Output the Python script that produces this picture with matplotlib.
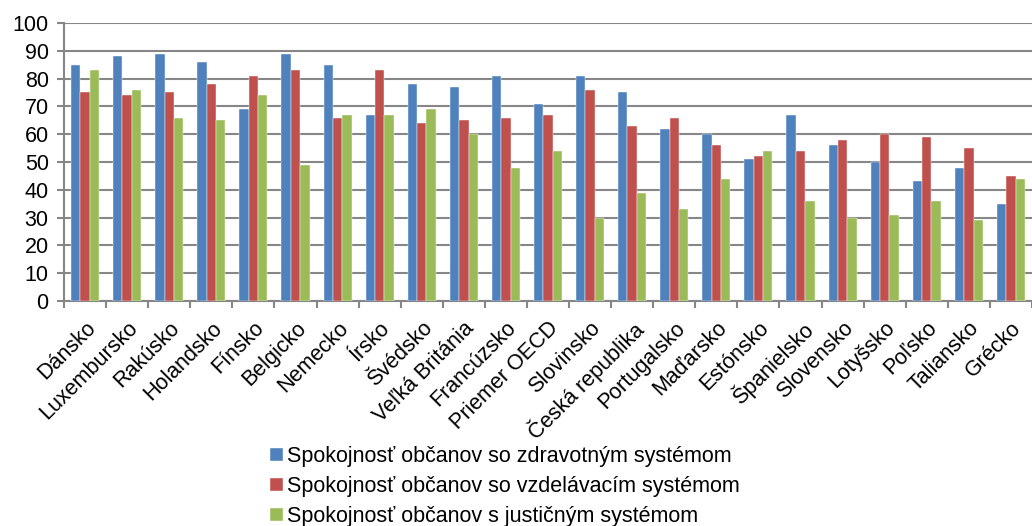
import matplotlib
matplotlib.use("Agg")
import matplotlib.pyplot as plt
import numpy as np

plt.rcParams['font.family'] = ['Liberation Sans', 'DejaVu Sans']

# údaje z grafu
krajiny = ['Dánsko', 'Luxembursko', 'Rakúsko', 'Holandsko', 'Fínsko', 'Belgicko',
           'Nemecko', 'Írsko', 'Švédsko', 'Veľká Británia', 'Francúzsko',
           'Priemer OECD', 'Slovinsko', 'Česká republika', 'Portugalsko',
           'Maďarsko', 'Estónsko', 'Španielsko', 'Slovensko', 'Lotyšsko',
           'Poľsko', 'Taliansko', 'Grécko']
zdravotny = [85, 88, 89, 86, 69, 89, 85, 67, 78, 77, 81, 71, 81, 75, 62, 60, 51, 67, 56, 50, 43, 48, 35]
vzdelavaci = [75, 74, 75, 78, 81, 83, 66, 83, 64, 65, 66, 67, 76, 63, 66, 56, 52, 54, 58, 60, 59, 55, 45]
justicny = [83, 76, 66, 65, 74, 49, 67, 67, 69, 60, 48, 54, 30, 39, 33, 44, 54, 36, 30, 31, 36, 29, 44]
nazvy = ['Spokojnosť občanov so zdravotným systémom',
         'Spokojnosť občanov so vzdelávacím systémom',
         'Spokojnosť občanov s justičným systémom']
farby = ['#4F81BD', '#C0504D', '#9BBB59']

fs = 15.5
fig = plt.figure(figsize=(10.32, 5.26), dpi=100)
ax = fig.add_axes([64/1032, 1-301/526, 1-64/1032, 278/526])

x = np.arange(len(krajiny))
w = 1/4.5
for i, (data, farba, nazov) in enumerate(zip([zdravotny, vzdelavaci, justicny], farby, nazvy)):
    ax.bar(x + (i-1)*w, data, width=w, color=farba, label=nazov,
           edgecolor='#ffffff', linewidth=0.3, zorder=3)

ax.set_xlim(-0.5, len(krajiny)-0.5)
ax.set_ylim(0, 100)
ax.set_yticks(range(0, 101, 10))
ax.yaxis.grid(True, color='#868686', linewidth=1.5, zorder=0)
ax.set_axisbelow(True)
for s in ['top', 'right']:
    ax.spines[s].set_visible(False)
for s in ['left', 'bottom']:
    ax.spines[s].set_color('#868686')
    ax.spines[s].set_linewidth(1.5)

ax.set_xticks(np.arange(len(krajiny)+1)-0.5, minor=False)
ax.set_xticklabels([])
ax.tick_params(axis='x', which='major', length=5, width=1.5, color='#868686')
ax.tick_params(axis='y', length=5, width=1.5, color='#868686', labelsize=fs, pad=6)
ax.set_xticks(x, minor=True)
ax.set_xticklabels(krajiny, minor=True, rotation=45, ha='right', va='top',
                   rotation_mode='anchor', fontsize=fs)
ax.tick_params(axis='x', which='minor', length=0, pad=12)

fig.legend(loc='upper left', bbox_to_anchor=(270/1032, 1-446/526), frameon=False,
           fontsize=fs, handlelength=0.6, handleheight=0.6, handletextpad=0.2,
           labelspacing=0.42, borderpad=0, borderaxespad=0)

fig.savefig('out.png', dpi=100)
